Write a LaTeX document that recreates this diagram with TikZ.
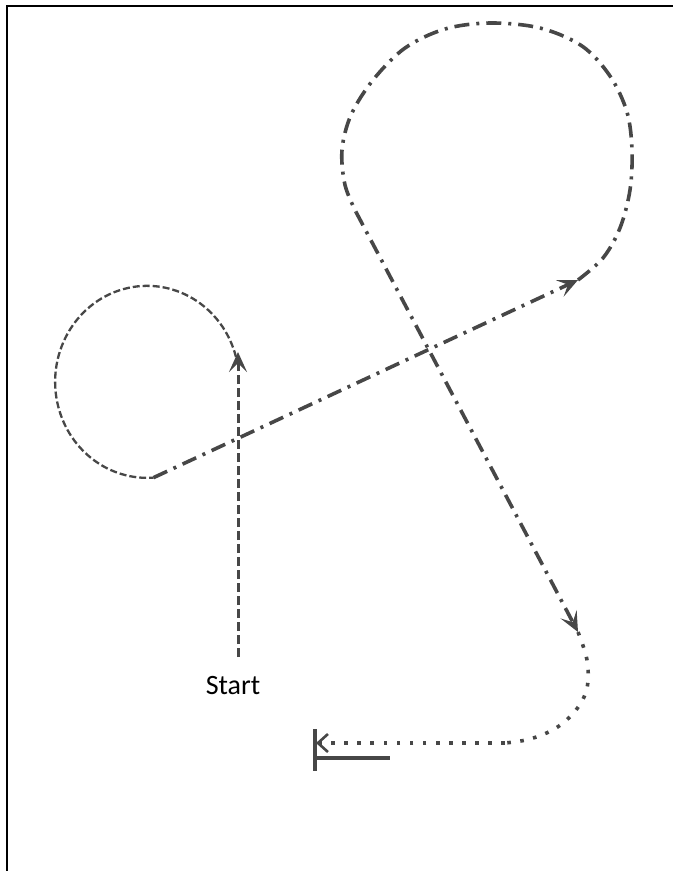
\documentclass[tikz,border=0pt]{standalone}
\usepackage{fontspec}
\setmainfont{Carlito}
\usetikzlibrary{arrows.meta}
\definecolor{inkc}{HTML}{474747}
\begin{document}
\begin{tikzpicture}[x=1pt,y=-1pt,
  ink/.style={draw=inkc, line width=3pt},
  fine/.style={ink, line width=2.3pt, dash pattern=on 7pt off 3pt},
  startline/.style={ink, line width=3pt, dash pattern=on 9pt off 4pt},
  dashdot/.style={ink, line width=3.6pt, dash pattern=on 15pt off 7pt on 3pt off 7pt},
  dots/.style={ink, line width=3.6pt, dash pattern=on 3.6pt off 9.5pt},
  tipA/.style={-{Stealth[length=20pt,width=18pt,inset=9pt]}},
  tipB/.style={-{Straight Barb[length=10pt,width=18pt,line width=2.6pt]}},
  bar/.style={draw=inkc, line width=3.2pt},
  frame/.style={draw=black, line width=2pt},
  label/.style={font=\fontsize{28}{30}\selectfont, text=black, inner sep=0pt}]
\useasboundingbox (0,0) rectangle (673,871);
% frame (only top and left edges lie inside the picture)
\coordinate (fbl) at (7,871);
\coordinate (ftl) at (7,6);
\coordinate (ftr) at (673,6);
\draw[frame] (fbl) -- (ftl) -- (ftr);

% start
\node[label] (start) at (233,686) {Start};
\coordinate (s0) at (238,657);
\coordinate (s1) at (238,352);
\draw[startline, tipA] (s0) -- (s1);

% small circle
\coordinate (lc0) at (236,357);
\draw[fine] (lc0) arc[start angle=-15, end angle=-274, x radius=92, y radius=96] coordinate (c1);

% long dash-dot line to big loop
\coordinate (c2) at (578,280);
\draw[dashdot, tipA] (c1) -- (c2);

% big loop
\coordinate (c3) at (356,212);
\draw[dashdot] plot[smooth, tension=0.55] coordinates {(578,280) (603,258) (620,228) (630,190) (632,150) (627,112) (610,76) (582,46) (540,28) (490,23) (445,29) (405,48) (373,80) (351,115) (342,150) (345,185) (356,212)};

% down line
\coordinate (c4) at (578,632);
\draw[dashdot, tipA] (c3) -- (c4);

% dotted finish
\coordinate (c5) at (505,743);
\coordinate (c6) at (316,743);
\draw[dots] plot[smooth, tension=0.6] coordinates {(578,632) (587,660) (587,688) (576,710) (556,728) (530,739) (505,743)};
\draw[dots, tipB] (c5) -- (c6);

% stop bar
\coordinate (b0) at (315,729);
\coordinate (b1) at (315,771);
\coordinate (b2) at (315,758);
\coordinate (b3) at (390,758);
\draw[bar] (b0) -- (b1);
\draw[bar] (b2) -- (b3);
\end{tikzpicture}
\end{document}
